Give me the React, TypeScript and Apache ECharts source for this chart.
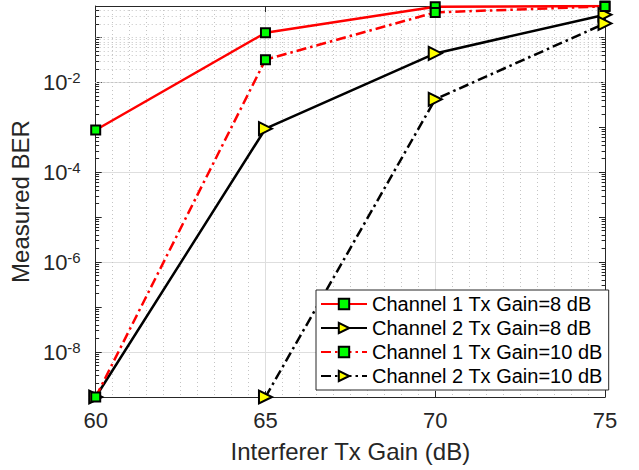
import React, { useEffect, useRef } from 'react';
import * as echarts from 'echarts';

const gains = [60, 65, 70, 75];
const ch1Gain8 = [8.7e-4, 0.127, 0.48, 0.5];
const ch2Gain8 = [1e-9, 9.3e-4, 0.044, 0.32];
const ch1Gain10 = [1e-9, 0.032, 0.36, 0.49];
const ch2Gain10 = [null, 1e-9, 4.2e-3, 0.205];
const seriesNames = [
  'Channel 1 Tx Gain=8 dB',
  'Channel 2 Tx Gain=8 dB',
  'Channel 1 Tx Gain=10 dB',
  'Channel 2 Tx Gain=10 dB',
];
const yLabelExponents = [-8, -6, -4, -2];
const yMin = 1e-9;
const yMax = 0.5;
const xMin = 60;
const xMax = 75;
const xStep = 5;

const FONT = 'Liberation Sans, Arial, Helvetica, sans-serif';
const AX = '#262626';

function pair(xs: number[], ys: (number | null)[]) {
  return xs.map((x, i) => [x, ys[i]]);
}

export default function App() {
  const ref = useRef<HTMLDivElement>(null);
  useEffect(() => {
    if (!ref.current) return;
    const chart = echarts.init(ref.current, undefined, { renderer: 'svg' });

    // minor log grid positions (decoration only)
    const minorGrid: any[] = [];
    const minorTicks: any[] = [];
    for (let n = -9; n <= -1; n++) {
      for (let k = 1; k <= 9; k++) {
        const v = k * Math.pow(10, n);
        if (v <= yMin * 1.0001 || v >= yMax) continue;
        const isLabeled = k === 1 && yLabelExponents.includes(n);
        if (!isLabeled) minorGrid.push({ yAxis: v });
        if (k !== 1) {
          minorTicks.push([{ coord: [xMin, v] }, { coord: [xMin + 0.1, v] }]);
          minorTicks.push([{ coord: [xMax, v] }, { coord: [xMax - 0.1, v] }]);
        }
      }
    }

    const squareStyle = { color: '#00ff00', borderColor: '#000', borderWidth: 2 };
    const triStyle = { color: '#ffff00', borderColor: '#000', borderWidth: 2 };
    const dashDot = [10, 4, 2.5, 4];

    const yLabelFmt = (v: number) => {
      const l = Math.log10(v);
      const e = Math.round(l);
      if (Math.abs(l - e) > 1e-6 || !yLabelExponents.includes(e)) return '';
      return `{b|10}{s|${e}}`;
    };

    const commonY = {
      type: 'log',
      logBase: 10,
      min: yMin,
      max: yMax,
    };

    chart.setOption({
      animation: false,
      textStyle: { fontFamily: FONT },
      grid: { left: 93, right: 34, top: 6, bottom: 73 },
      legend: {
        data: seriesNames,
        orient: 'vertical',
        left: 316,
        top: 290,
        itemWidth: 46,
        itemHeight: 13,
        itemGap: 4,
        padding: [4, 6, 4, 4],
        backgroundColor: '#fff',
        borderColor: AX,
        borderWidth: 1,
        borderRadius: 0,
        textStyle: { fontSize: 20, color: '#000', fontFamily: FONT },
        z: 10,
      },
      xAxis: [
        {
          type: 'value',
          min: xMin,
          max: xMax,
          interval: xStep,
          name: 'Interferer Tx Gain (dB)',
          nameLocation: 'middle',
          nameGap: 42,
          nameTextStyle: { fontSize: 24, color: AX, fontFamily: FONT },
          axisLine: { show: true, onZero: false, lineStyle: { color: AX, width: 1 } },
          axisTick: { show: true, inside: true, length: 6, lineStyle: { color: AX } },
          axisLabel: { fontSize: 22, color: AX, margin: 12, fontFamily: FONT },
          splitLine: { show: true, lineStyle: { color: '#dedede', width: 1 } },
          minorTick: { show: false, splitNumber: 10 },
          minorSplitLine: { show: true, lineStyle: { color: '#c4c4c4', width: 1, type: [1, 3] } },
        },
        {
          type: 'value',
          position: 'top',
          min: xMin,
          max: xMax,
          interval: xStep,
          axisLine: { show: true, onZero: false, lineStyle: { color: AX, width: 1 } },
          axisTick: { show: true, inside: true, length: 6, lineStyle: { color: AX } },
          axisLabel: { show: false },
          splitLine: { show: false },
        },
      ],
      yAxis: [
        {
          ...commonY,
          name: 'Measured BER',
          nameLocation: 'middle',
          nameGap: 54,
          nameTextStyle: { fontSize: 24, color: AX, fontFamily: FONT },
          axisLine: { show: true, onZero: false, lineStyle: { color: AX, width: 1 } },
          axisTick: { show: true, inside: true, length: 6, lineStyle: { color: AX } },
          axisLabel: {
            show: true,
            margin: 15,
            color: AX,
            formatter: yLabelFmt,
            showMinLabel: true,
            showMaxLabel: true,
            rich: {
              b: { fontSize: 22, color: AX, fontFamily: FONT },
              s: { fontSize: 15, color: AX, fontFamily: FONT, padding: [0, 0, 10, 0] },
            },
          },
          splitLine: {
            show: true,
            lineStyle: { color: ['transparent', '#dedede'], width: 1 },
          },
        },
        {
          ...commonY,
          position: 'right',
          axisLine: { show: true, onZero: false, lineStyle: { color: AX, width: 1 } },
          axisTick: { show: true, inside: true, length: 6, lineStyle: { color: AX } },
          axisLabel: { show: false },
          splitLine: { show: false },
        },
      ],
      series: [
        {
          name: '__grid',
          type: 'line',
          data: [],
          xAxisIndex: 0,
          yAxisIndex: 0,
          silent: true,
          z: 1,
          markLine: {
            silent: true,
            symbol: ['none', 'none'],
            label: { show: false },
            z: 1,
            lineStyle: { color: '#c4c4c4', width: 1, type: [1, 3] },
            data: minorGrid,
          },
        },
        {
          name: '__ticks',
          type: 'line',
          data: [],
          xAxisIndex: 0,
          yAxisIndex: 0,
          silent: true,
          z: 1,
          markLine: {
            silent: true,
            symbol: ['none', 'none'],
            label: { show: false },
            z: 1,
            lineStyle: { color: AX, width: 1, type: 'solid' },
            data: minorTicks,
          },
        },
        {
          name: seriesNames[0],
          type: 'line',
          data: pair(gains, ch1Gain8),
          symbol: 'rect',
          symbolSize: 9,
          lineStyle: { color: '#ff0000', width: 2.5, type: 'solid' },
          itemStyle: squareStyle,
          z: 3,
        },
        {
          name: seriesNames[1],
          type: 'line',
          data: pair(gains, ch2Gain8),
          symbol: 'triangle',
          symbolRotate: -90,
          symbolSize: 13,
          lineStyle: { color: '#000000', width: 2.5, type: 'solid' },
          itemStyle: triStyle,
          z: 3,
        },
        {
          name: seriesNames[2],
          type: 'line',
          data: pair(gains, ch1Gain10),
          symbol: 'rect',
          symbolSize: 9,
          lineStyle: { color: '#ff0000', width: 2.5, type: dashDot },
          itemStyle: squareStyle,
          z: 3,
        },
        {
          name: seriesNames[3],
          type: 'line',
          data: pair(gains, ch2Gain10),
          symbol: 'triangle',
          symbolRotate: -90,
          symbolSize: 13,
          connectNulls: false,
          lineStyle: { color: '#000000', width: 2.5, type: dashDot },
          itemStyle: triStyle,
          z: 3,
        },
      ],
    });
    return () => chart.dispose();
  }, []);
  return (
    <div
      ref={ref}
      style={{ position: 'fixed', left: 0, top: 0, width: 639, height: 470, background: '#fff' }}
    />
  );
}
